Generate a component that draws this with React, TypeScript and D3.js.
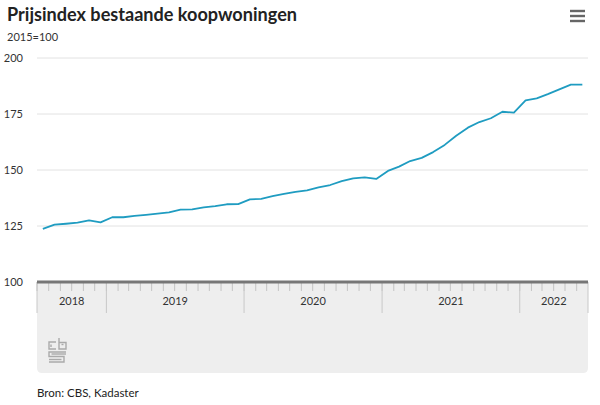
import React from 'react';
import * as d3 from 'd3';

// Prijsindex (2015=100), monthly from July 2018 through June 2022
const startYear = 2018;
const startMonth = 6; // July (0-based)
const indexValues = [
  123.7, 125.6, 126.0, 126.5, 127.5, 126.6,
  128.9, 128.9, 129.5, 130.0, 130.5, 131.1, 132.3, 132.4, 133.3, 133.9, 134.7, 134.8,
  136.9, 137.1, 138.3, 139.3, 140.2, 140.9, 142.2, 143.3, 145.0, 146.3, 146.7, 146.0,
  149.6, 151.5, 154.0, 155.4, 158.0, 161.2, 165.3, 168.9, 171.4, 173.1, 176.0, 175.6,
  181.1, 182.0, 183.9, 186.0, 188.1, 188.1,
];
const yTicks = [100, 125, 150, 175, 200];
const yearLabels = ['2018', '2019', '2020', '2021', '2022'];

const FONT = "Lato, 'Open Sans', sans-serif";

export default function App() {
  const left = 37;
  const right = 588;
  const top = 58;
  const bottom = 282;

  const dStart = new Date(startYear, startMonth, 1);
  const dEnd = d3.timeMonth.offset(dStart, indexValues.length);

  const x = d3.scaleTime().domain([dStart, dEnd]).range([left, right]);
  const y = d3.scaleLinear().domain([100, 200]).range([bottom, top]);

  const points = indexValues.map((v, i) => {
    const m0 = d3.timeMonth.offset(dStart, i);
    const m1 = d3.timeMonth.offset(dStart, i + 1);
    return { x: (x(m0) + x(m1)) / 2, v };
  });

  const line = d3
    .line<{ x: number; v: number }>()
    .x((d) => d.x)
    .y((d) => y(d.v));

  const months = d3.timeMonth.range(dStart, dEnd);
  const yearStarts = d3.timeYear.range(dStart, dEnd);
  const bounds = [dStart, ...yearStarts, dEnd];

  const bandBottom = 373;

  return (
    <svg
      width={600}
      height={405}
      style={{ position: 'absolute', left: 0, top: 0, background: '#fff' }}
      fontFamily={FONT}
    >
      <text x={7} y={21} fontSize={19} fontWeight={700} fill="#222" textLength={290} lengthAdjust="spacingAndGlyphs">
        Prijsindex bestaande koopwoningen
      </text>
      <text x={7} y={41} fontSize={11} fill="#333">
        2015=100
      </text>

      {/* menu icon */}
      {[11, 16, 21].map((yy) => (
        <rect key={yy} x={570} y={yy - 1.2} width={15} height={2.4} fill="#666" />
      ))}

      {/* grid */}
      {yTicks.map((t) => (
        <g key={t}>
          {t !== 100 && <line x1={left} x2={right} y1={y(t)} y2={y(t)} stroke="#e2e2e2" strokeWidth={1} />}
          <text x={23} y={y(t) + 4} fontSize={11} textAnchor="end" fill="#333">
            {t}
          </text>
        </g>
      ))}

      {/* navigator-like band under axis */}
      <path
        d={`M${left},${bottom} H${right} V${bandBottom - 5} Q${right},${bandBottom} ${right - 5},${bandBottom} H${left + 5} Q${left},${bandBottom} ${left},${bandBottom - 5} Z`}
        fill="#eeeeee"
      />
      {months.map((m, i) => (
        <line key={i} x1={x(m)} x2={x(m)} y1={bottom} y2={bottom + 9} stroke="#c4c4c4" strokeWidth={1} />
      ))}
      {bounds.map((b, i) => (
        <line key={'b' + i} x1={x(b)} x2={x(b)} y1={bottom} y2={bottom + 31} stroke="#c8c8c8" strokeWidth={1} />
      ))}
      {yearLabels.map((lbl, i) => (
        <text
          key={lbl}
          x={(x(bounds[i]) + x(bounds[i + 1])) / 2}
          y={305}
          fontSize={11}
          textAnchor="middle"
          fill="#333"
        >
          {lbl}
        </text>
      ))}
      <line x1={left} x2={right} y1={bottom} y2={bottom} stroke="#777" strokeWidth={3} />

      {/* data line */}
      <path d={line(points) ?? ''} fill="none" stroke="#1f9cc1" strokeWidth={1.8} strokeLinejoin="round" />

      {/* cbs logo */}
      <g fill="none" stroke="#aaa" strokeWidth={1.4}>
        <path d="M56,342 H49 V349 H56" />
        <path d="M51,344.5 V347" />
        <path d="M59,338 V349 H66 V342.5 H59" />
        <path d="M61.5,344.5 H63.5" />
        <path d="M66,352 H49 V356.5 H64 V362 H49" />
        <path d="M51.5,354 H66" />
        <path d="M49,359.5 H61.5" />
      </g>

      <text x={37} y={397} fontSize={11.5} fill="#222">
        Bron: CBS, Kadaster
      </text>
    </svg>
  );
}
